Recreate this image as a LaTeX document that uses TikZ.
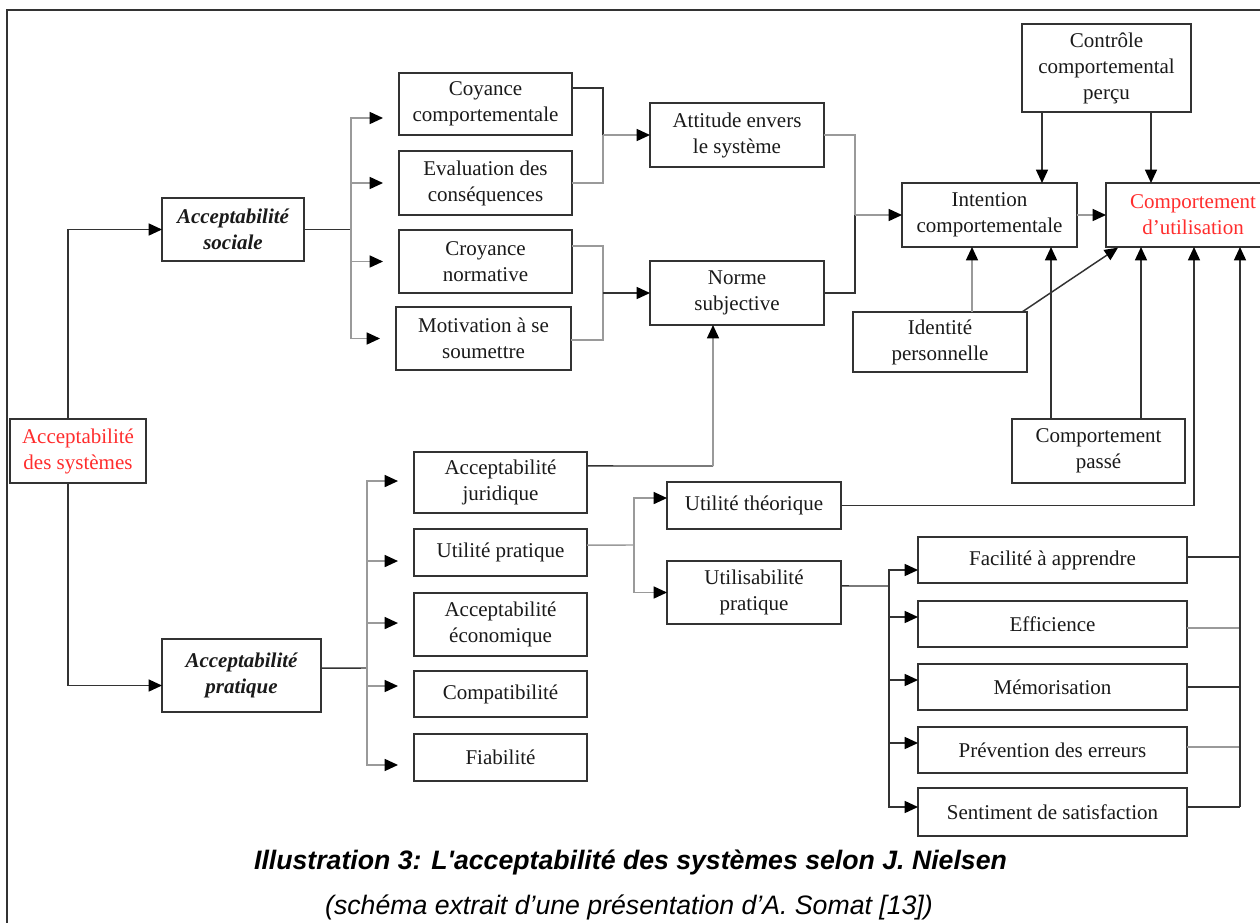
\documentclass[tikz,border=0pt]{standalone}
\usepackage{fontspec}
\setmainfont{Liberation Serif}
\newfontfamily\capfont{Liberation Sans}
\usetikzlibrary{arrows.meta}
\definecolor{ln}{HTML}{333333}
\definecolor{lg}{HTML}{9A9A9A}
\definecolor{txt}{HTML}{1A1A1A}
\definecolor{accent}{RGB}{255,45,45}
\newcommand\boxfont{\fontsize{15.75}{19.5}\selectfont}

\begin{document}
\begin{tikzpicture}[x=0.75pt,y=-0.75pt,
  box/.style={draw=ln,line width=1.3pt,inner sep=0pt,outer sep=0pt,align=center,text=txt,font=\boxfont},
  sz/.style 2 args={minimum width={#1*0.75pt},minimum height={#2*0.75pt}},
  bi/.style={font=\boxfont\bfseries\itshape},
  wire/.style={draw=ln,line width=1.1pt},
  wireg/.style={draw=lg,line width=1.1pt},
  arr/.style={-{Triangle[length=10pt,width=9pt,color=black]}},
  shortgap/.style={shorten >=12pt}
]
\path[use as bounding box] (0,0) rectangle (1260,922);
\clip (0,0) rectangle (1260,922);
\fill[white] (0,0) rectangle (1260,922);

% frame
\draw[ln,line width=1.1pt] (7,930) -- (7,10) -- (1270,10);

% root and the two branches
\node[box,sz={136}{64},text=accent] (sys) at (78,451) {Acceptabilité\\des systèmes};
\node[box,sz={142}{63},bi] (soc) at (233,229.5) {Acceptabilité\\sociale};
\node[box,sz={159}{73},bi] (pra) at (241.5,675.5) {Acceptabilité\\pratique};

% social acceptability
\node[box,sz={173}{62}] (coy) at (485.5,104) {Coyance\\comportementale};
\node[box,sz={173}{64}] (eva) at (485.5,183) {Evaluation des\\conséquences};
\node[box,sz={173}{63}] (cro) at (485.5,261.5) {Croyance\\normative};
\node[box,sz={175}{63}] (mot) at (483.5,338.5) {Motivation à se\\soumettre};
\node[box,sz={174}{64}] (att) at (737,135) {Attitude envers\\le système};
\node[box,sz={174}{64}] (nor) at (737,293) {Norme\\subjective};

% behaviour model
\node[box,sz={175}{64}] (int) at (989.5,215) {Intention\\comportementale};
\node[box,sz={169}{88}] (ctl) at (1106.5,68) {Contrôle\\comportemental\\perçu};
\node[box,sz={174}{64},text=accent] (cmp) at (1193,215) {Comportement\\d’utilisation};
\node[box,sz={174}{60}] (idt) at (940,342) {Identité\\personnelle};
\node[box,sz={173}{64}] (pas) at (1098.5,451) {Comportement\\passé};

% practical acceptability
\node[box,sz={173}{61}] (jur) at (500.5,482.5) {Acceptabilité\\juridique};
\node[box,sz={173}{47}] (upr) at (500.5,552.5) {Utilité pratique};
\node[box,sz={173}{63}] (eco) at (500.5,624.5) {Acceptabilité\\économique};
\node[box,sz={173}{46}] (cpt) at (500.5,694) {Compatibilité};
\node[box,sz={173}{47}] (fia) at (500.5,757.5) {Fiabilité};
\node[box,sz={174}{47}] (uth) at (754,505.5) {Utilité théorique};
\node[box,sz={174}{63}] (usa) at (754,592.5) {Utilisabilité\\pratique};

% usability criteria
\node[box,sz={269}{46}] (fac) at (1052.5,560) {Facilité à apprendre};
\node[box,sz={269}{46}] (eff) at (1052.5,624) {Efficience};
\node[box,sz={269}{46}] (mem) at (1052.5,687) {Mémorisation};
\node[box,sz={269}{46}] (pre) at (1052.5,750) {Prévention des erreurs};
\node[box,sz={269}{48}] (sat) at (1052.5,812) {Sentiment de satisfaction};

% root to branches
\draw[wire,arr] ([xshift=-7.5pt]sys.north) |- (soc.west);
\draw[wire,arr] ([xshift=-7.5pt]sys.south) |- ([yshift=-7.5pt]pra.west);

% social branch bus
\coordinate (sb) at (351,229.5);
\draw[wire] (soc.east) -- (sb);
\draw[wireg,arr,shortgap] (sb) |- ([yshift=-10.5pt]coy.west);
\draw[wireg,arr,shortgap] (sb) |- (eva.west);
\draw[wireg,arr,shortgap] (sb) |- (cro.west);
\draw[wireg,arr,shortgap] (sb) |- (mot.west);

% beliefs to attitude and norm
\coordinate (ce) at (603,135);
\draw[wire] ([yshift=12pt]coy.east) -| (ce);
\draw[wireg] (ce) |- (eva.east);
\draw[wireg,arr] (ce) -- (att.west);
\coordinate (cn) at (603,293);
\draw[wireg] ([yshift=11.6pt]cro.east) -| (cn);
\draw[wireg] (cn) |- ([yshift=-1.1pt]mot.east);
\draw[wire,arr] (cn) -- (nor.west);

% attitude and norm to intention
\coordinate (ci) at (855,215);
\draw[wireg] (att.east) -| (ci);
\draw[wire] (ci) |- (nor.east);
\draw[wireg,arr] (ci) -- (int.west);

% intention model
\draw[wireg,arr] (int.east) -- (cmp.west);
\draw[wire,arr] (1042,0 |- ctl.south) -- (1042,0 |- int.north);
\draw[wire,arr] (1151,0 |- ctl.south) -- (1151,0 |- cmp.north);
\draw[wireg,arr] (972,0 |- idt.north) -- (972,0 |- int.south);
\draw[wire,arr] ([xshift=-3.75pt]idt.north east) -- ([xshift=9pt,yshift=-0.5pt]cmp.south west);
\draw[wire,arr] (1051,0 |- pas.north) -- (1051,0 |- int.south);
\draw[wire,arr] (1141,0 |- pas.north) -- (1141,0 |- cmp.south);

% practical branch bus
\coordinate (pb) at (367,668);
\draw[wire] ([yshift=5.6pt]pra.east) -- (pb);
\draw[wireg,arr,shortgap] (pb) |- ([yshift=1.1pt]jur.west);
\draw[wireg,arr,shortgap] (pb) |- ([yshift=-6.4pt]upr.west);
\draw[wireg,arr,shortgap] (pb) |- ([yshift=1.1pt]eco.west);
\draw[wireg,arr,shortgap] (pb) |- ([yshift=6pt]cpt.west);
\draw[wireg,arr,shortgap] (pb) |- ([yshift=-5.6pt]fia.west);

% legal acceptability to subjective norm
\draw[wire] ([yshift=12.4pt]jur.east) -- (713,466);
\draw[wireg,arr] (713,466) -- (713,0 |- nor.south);

% practical utility split
\coordinate (ub) at (634,545);
\draw[wireg] ([yshift=5.6pt]upr.east) -- (ub);
\draw[wireg,arr] (ub) |- ([yshift=5.6pt]uth.west);
\draw[wireg,arr] (ub) |- (usa.west);

% theoretical utility to usage behaviour
\draw[wire,arr] (uth.east) -| (1194,0 |- cmp.south);

% usability criteria
\coordinate (rb) at (889,586);
\draw[wire] ([yshift=4.9pt]usa.east) -- (rb);
\draw[wire,arr] (rb) |- ([yshift=-7.5pt]fac.west);
\draw[wire,arr] (rb) |- ([yshift=5.25pt]eff.west);
\draw[wire,arr] (rb) |- ([yshift=5.25pt]mem.west);
\draw[wire,arr] (rb) |- ([yshift=5.25pt]pre.west);
\draw[wire,arr] (rb) |- ([yshift=3.75pt]sat.west);

% criteria collected on the right
\coordinate (rc) at (1240,807);
\draw[wire] ([yshift=2.25pt]fac.east) -- (1240,557);
\draw[wireg] ([yshift=-3pt]eff.east) -- (1240,628);
\draw[wire] (mem.east) -- (1240,687);
\draw[wireg] ([yshift=2.25pt]pre.east) -- (1240,747);
\draw[wire] ([yshift=3.75pt]sat.east) -- (rc);
\draw[wire,arr] (rc) -- (1240,0 |- cmp.south);

% caption
\node[font=\capfont\bfseries\itshape\fontsize{20}{24}\selectfont] (cap1) at (630.5,862)
  {Illustration 3: L\char"0027 acceptabilité des systèmes selon J. Nielsen};
\node[font=\capfont\itshape\fontsize{20}{24}\selectfont] (cap2) at (629,907)
  {(schéma extrait d’une présentation d’A. Somat [13])};
\end{tikzpicture}
\end{document}
